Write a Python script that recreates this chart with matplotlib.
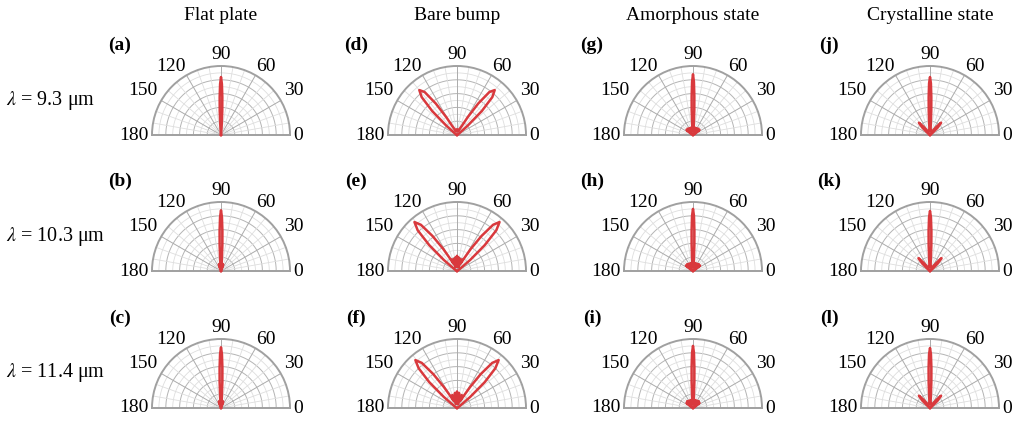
import numpy as np
import matplotlib
matplotlib.use("Agg")
import matplotlib.pyplot as plt

plt.rcParams['font.family'] = ['Liberation Serif', 'DejaVu Serif']
plt.rcParams['mathtext.fontset'] = 'stix'

# column / row captions
col_titles = ['Flat plate', 'Bare bump', 'Amorphous state', 'Crystalline state']
row_labels = [r'$\lambda$ = 9.3 μm', r'$\lambda$ = 10.3 μm', r'$\lambda$ = 11.4 μm']
panel_tags = [['(a)', '(d)', '(g)', '(j)'],
              ['(b)', '(e)', '(h)', '(k)'],
              ['(c)', '(f)', '(i)', '(l)']]
angle_ticks = [0, 30, 60, 90, 120, 150, 180]

# radiation patterns (angle in deg, normalised radius)
flat_93_theta = [0, 70, 84, 86, 87, 88, 89, 90, 91, 92, 93, 94, 96, 110, 180]
flat_93_r = [0, 0.01, 0.03, 0.15, 0.35, 0.55, 0.74, 0.84, 0.74, 0.55, 0.35, 0.15, 0.03, 0.01, 0]

flat_103_theta = [0, 65, 72, 76, 80, 85, 86, 87, 88, 89, 90, 91, 92, 93, 94, 95, 100, 104, 108, 115, 180]
flat_103_r = [0, 0.01, 0.1, 0.03, 0.1, 0.12, 0.18, 0.38, 0.58, 0.78, 0.88, 0.78, 0.58, 0.38, 0.18, 0.12, 0.1, 0.03, 0.1, 0.01, 0]

flat_114_theta = [0, 65, 72, 76, 80, 85, 86, 87, 88, 89, 90, 91, 92, 93, 94, 95, 100, 104, 108, 115, 180]
flat_114_r = [0, 0.01, 0.1, 0.03, 0.09, 0.12, 0.18, 0.38, 0.58, 0.78, 0.88, 0.78, 0.58, 0.38, 0.18, 0.12, 0.09, 0.03, 0.1, 0.01, 0]

bump_93_theta = [0, 30, 38, 41, 44, 47, 50, 53, 56, 59, 62, 66, 75, 85, 90, 95, 105,
                 114, 118, 121, 124, 127, 130, 133, 136, 139, 142, 150, 180]
bump_93_r = [0, 0.02, 0.05, 0.2, 0.5, 0.75, 0.85, 0.78, 0.55, 0.3, 0.15, 0.1, 0.06, 0.08, 0.05, 0.08, 0.06,
             0.1, 0.15, 0.3, 0.55, 0.78, 0.85, 0.75, 0.5, 0.2, 0.05, 0.02, 0]

bump_103_theta = [0, 28, 36, 40, 43, 46, 49, 52, 55, 58, 61, 64, 68, 72, 76, 80, 84, 88, 90,
                  92, 96, 100, 104, 108, 112, 116, 119, 122, 125, 128, 131, 134, 137, 140, 144, 152, 180]
bump_103_r = [0, 0.02, 0.05, 0.25, 0.55, 0.82, 0.94, 0.85, 0.62, 0.38, 0.2, 0.12, 0.18, 0.06, 0.18, 0.06, 0.2, 0.06, 0.22,
              0.06, 0.2, 0.06, 0.18, 0.06, 0.18, 0.12, 0.2, 0.38, 0.62, 0.85, 0.94, 0.82, 0.55, 0.25, 0.05, 0.02, 0]

bump_114_theta = [0, 28, 36, 40, 43, 46, 49, 52, 55, 58, 61, 64, 70, 76, 82, 88, 90,
                  92, 98, 104, 110, 116, 119, 122, 125, 128, 131, 134, 137, 140, 144, 152, 180]
bump_114_r = [0, 0.02, 0.05, 0.25, 0.55, 0.8, 0.92, 0.83, 0.6, 0.36, 0.2, 0.12, 0.2, 0.06, 0.22, 0.06, 0.24,
              0.06, 0.22, 0.06, 0.2, 0.12, 0.2, 0.36, 0.6, 0.83, 0.92, 0.8, 0.55, 0.25, 0.05, 0.02, 0]

amor_93_theta = [0, 30, 38, 44, 50, 56, 62, 68, 74, 80, 85, 86, 87, 88, 89, 90, 91, 92, 93, 94, 95,
                 100, 106, 112, 118, 124, 130, 136, 142, 150, 180]
amor_93_r = [0, 0.03, 0.12, 0.04, 0.12, 0.05, 0.11, 0.05, 0.11, 0.06, 0.12, 0.18, 0.36, 0.56, 0.77, 0.88, 0.77, 0.56, 0.36, 0.18, 0.12,
             0.06, 0.11, 0.05, 0.11, 0.05, 0.12, 0.04, 0.12, 0.03, 0]

amor_103_theta = [0, 30, 38, 44, 50, 56, 62, 68, 74, 80, 85, 86, 87, 88, 89, 90, 91, 92, 93, 94, 95,
                  100, 106, 112, 118, 124, 130, 136, 142, 150, 180]
amor_103_r = [0, 0.03, 0.13, 0.04, 0.13, 0.05, 0.12, 0.05, 0.12, 0.06, 0.13, 0.2, 0.38, 0.58, 0.8, 0.9, 0.8, 0.58, 0.38, 0.2, 0.13,
              0.06, 0.12, 0.05, 0.12, 0.05, 0.13, 0.04, 0.13, 0.03, 0]

amor_114_theta = [0, 30, 38, 44, 50, 56, 62, 68, 74, 80, 85, 86, 87, 88, 89, 90, 91, 92, 93, 94, 95,
                  100, 106, 112, 118, 124, 130, 136, 142, 150, 180]
amor_114_r = [0, 0.03, 0.12, 0.04, 0.13, 0.05, 0.12, 0.05, 0.12, 0.06, 0.13, 0.2, 0.38, 0.58, 0.8, 0.9, 0.8, 0.58, 0.38, 0.2, 0.13,
              0.06, 0.12, 0.05, 0.12, 0.05, 0.13, 0.04, 0.12, 0.03, 0]

cryst_93_theta = [0, 35, 44, 48, 52, 60, 75, 85, 86, 87, 88, 89, 90, 91, 92, 93, 94, 95, 105, 120, 128, 132, 136, 145, 180]
cryst_93_r = [0, 0.02, 0.15, 0.24, 0.15, 0.06, 0.05, 0.1, 0.18, 0.35, 0.55, 0.75, 0.84, 0.75, 0.55, 0.35, 0.18, 0.1, 0.05, 0.06, 0.15, 0.24, 0.15, 0.02, 0]

cryst_103_theta = [0, 35, 44, 48, 52, 60, 75, 85, 86, 87, 88, 89, 90, 91, 92, 93, 94, 95, 105, 120, 128, 132, 136, 145, 180]
cryst_103_r = [0, 0.02, 0.15, 0.25, 0.15, 0.06, 0.05, 0.1, 0.18, 0.37, 0.58, 0.78, 0.87, 0.78, 0.58, 0.37, 0.18, 0.1, 0.05, 0.06, 0.15, 0.25, 0.15, 0.02, 0]

cryst_114_theta = [0, 35, 44, 48, 52, 60, 75, 85, 86, 87, 88, 89, 90, 91, 92, 93, 94, 95, 105, 120, 128, 132, 136, 145, 180]
cryst_114_r = [0, 0.02, 0.15, 0.24, 0.15, 0.06, 0.05, 0.1, 0.18, 0.37, 0.58, 0.78, 0.87, 0.78, 0.58, 0.37, 0.18, 0.1, 0.05, 0.06, 0.15, 0.24, 0.15, 0.02, 0]

patterns = [
    [(flat_93_theta, flat_93_r), (bump_93_theta, bump_93_r), (amor_93_theta, amor_93_r), (cryst_93_theta, cryst_93_r)],
    [(flat_103_theta, flat_103_r), (bump_103_theta, bump_103_r), (amor_103_theta, amor_103_r), (cryst_103_theta, cryst_103_r)],
    [(flat_114_theta, flat_114_r), (bump_114_theta, bump_114_r), (amor_114_theta, amor_114_r), (cryst_114_theta, cryst_114_r)],
]

W, H = 1015, 422
R = 69  # half-disc radius in pixels
col_cx = [221, 457, 693, 930]
row_cy = [135, 271, 408]
red = '#d9393d'

# where each angle label sits: (angle, radius, ha)
label_pos = {0: (0, 1.04, 'left'), 30: (35, 1.12, 'left'), 60: (63, 1.12, 'left'),
             90: (90, 1.17, 'center'), 120: (117, 1.12, 'right'), 150: (145, 1.12, 'right'),
             180: (180, 1.05, 'right')}

fig = plt.figure(figsize=(W / 100, H / 100), dpi=100)

for i, cy in enumerate(row_cy):
    for j, cx in enumerate(col_cx):
        # half disc is centred vertically in its square box, so the box sits R/2 above the centre
        top = cy - 1.5 * R
        ax = fig.add_axes([(cx - R) / W, 1 - (top + 2 * R) / H, 2 * R / W, 2 * R / H], projection='polar')
        ax.set_thetamin(0)
        ax.set_thetamax(180)
        ax.set_ylim(0, 1)
        ax.set_xticks([])
        ax.set_yticks([])
        ax.grid(False)
        ax.patch.set_alpha(0)
        t = np.linspace(0, np.pi, 200)
        # rings
        for k in range(1, 10):
            rr = k / 10
            ax.plot(t, np.full_like(t, rr), color='#b4b4b4' if k % 2 == 0 else '#dedede',
                    lw=0.7 if k % 2 == 0 else 0.6, zorder=1)
        # spokes
        for a in range(10, 180, 10):
            major = a % 30 == 0
            ax.plot([np.deg2rad(a)] * 2, [0, 1], color='#ababab' if major else '#dedede',
                    lw=0.7 if major else 0.6, zorder=1)
        for s in ['polar', 'start', 'end']:
            ax.spines[s].set_color('#a0a0a0')
            ax.spines[s].set_linewidth(1.4)
        ax.spines['inner'].set_visible(False)

        th, r = patterns[i][j]
        ax.plot(np.deg2rad(th), r, color=red, lw=1.8, solid_joinstyle='round', zorder=3, clip_on=False)

        for a in angle_ticks:
            ang, rad, ha = label_pos[a]
            ax.text(np.deg2rad(ang), rad, str(a), ha=ha, va='center', fontsize=14, clip_on=False)

        fig.text((cx - 101) / W, 1 - (cy - 90) / H, panel_tags[i][j], ha='center', va='center',
                 fontsize=14, fontweight='bold')

for j, cx in enumerate(col_cx):
    fig.text(cx / W, 1 - 16 / H, col_titles[j], ha='center', va='center', fontsize=14)

for i, cy in enumerate(row_cy):
    fig.text(6 / W, 1 - (cy - 35) / H, row_labels[i], ha='left', va='center', fontsize=14.5)

fig.savefig('out.png', dpi=100)
